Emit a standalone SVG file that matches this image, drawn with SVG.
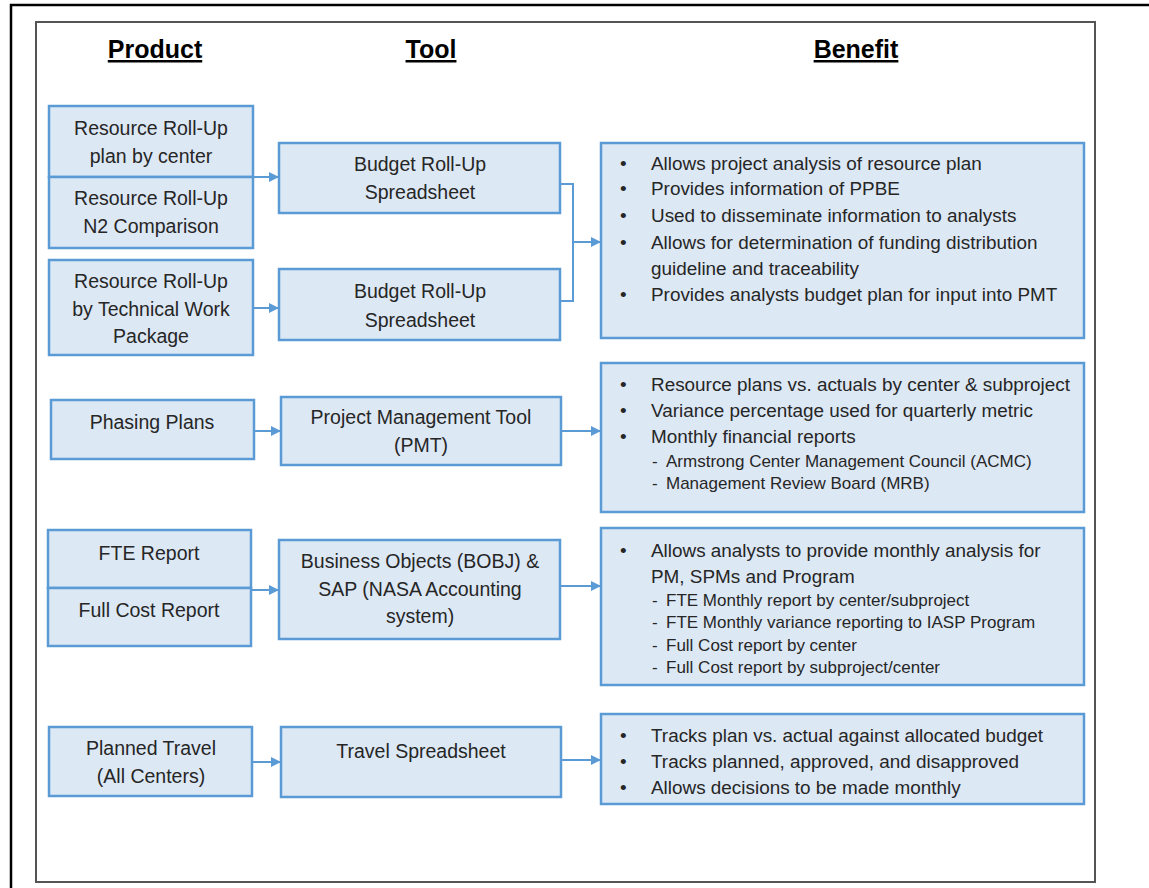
<svg xmlns="http://www.w3.org/2000/svg" width="1149" height="888" viewBox="0 0 1149 888">
<defs>
<style>
.frame{fill:none;stroke:#000;stroke-width:2.5}
.inner{fill:none;stroke:#555;stroke-width:2}
.box{fill:#dde8f5;stroke:#5b9bd5;stroke-width:2.5}
.t{font-family:"Liberation Sans",Arial,sans-serif;font-size:19.5px;fill:#262626;text-anchor:middle}
.b{font-family:"Liberation Sans",Arial,sans-serif;font-size:18.9px;fill:#262626}
.s{font-family:"Liberation Sans",Arial,sans-serif;font-size:17px;fill:#262626}
.h{font-family:"Liberation Sans",Arial,sans-serif;font-size:25px;font-weight:bold;fill:#000;text-anchor:middle;text-decoration:underline}
.c{fill:none;stroke:#5b9bd5;stroke-width:2}
</style>
<marker id="ar" viewBox="0 0 10 10" refX="10" refY="5" markerWidth="5" markerHeight="5" orient="auto" markerUnits="strokeWidth">
<path d="M0,0 L10,5 L0,10 z" fill="#5b9bd5"/>
</marker>
</defs>
<rect width="1149" height="888" fill="#fff"/>
<rect class="frame" x="11" y="5" width="1160" height="900"/>
<rect class="inner" x="36" y="22" width="1059" height="860"/>

<g id="headers">
<text class="h" x="155" y="58">Product</text>
<text class="h" x="431" y="58">Tool</text>
<text class="h" x="856" y="58">Benefit</text>
</g>

<g id="connectors">
<line class="c" x1="253" y1="177" x2="279" y2="177" marker-end="url(#ar)"/>
<line class="c" x1="253" y1="308" x2="279" y2="308" marker-end="url(#ar)"/>
<polyline class="c" points="560,184 573,184 573,301 560,301"/>
<line class="c" x1="573" y1="242" x2="601" y2="242" marker-end="url(#ar)"/>
<line class="c" x1="254" y1="431" x2="281" y2="431" marker-end="url(#ar)"/>
<line class="c" x1="561" y1="431" x2="601" y2="431" marker-end="url(#ar)"/>
<line class="c" x1="251" y1="590" x2="279" y2="590" marker-end="url(#ar)"/>
<line class="c" x1="560" y1="586" x2="601" y2="586" marker-end="url(#ar)"/>
<line class="c" x1="252" y1="762" x2="281" y2="762" marker-end="url(#ar)"/>
<line class="c" x1="561" y1="760" x2="601" y2="760" marker-end="url(#ar)"/>
</g>

<g id="p1">
<rect class="box" x="49" y="106" width="204" height="71"/>
<text class="t" x="151" y="135">Resource Roll-Up</text>
<text class="t" x="151" y="163">plan by center</text>
</g>
<g id="p2">
<rect class="box" x="49" y="177" width="204" height="71"/>
<text class="t" x="151" y="205">Resource Roll-Up</text>
<text class="t" x="151" y="233">N2 Comparison</text>
</g>
<g id="p3">
<rect class="box" x="49" y="260" width="204" height="95"/>
<text class="t" x="151" y="288">Resource Roll-Up</text>
<text class="t" x="151" y="316">by Technical Work</text>
<text class="t" x="151" y="343">Package</text>
</g>
<g id="t1">
<rect class="box" x="279" y="143" width="281" height="70"/>
<text class="t" x="420" y="171">Budget Roll-Up</text>
<text class="t" x="420" y="199">Spreadsheet</text>
</g>
<g id="t2">
<rect class="box" x="279" y="269" width="281" height="71"/>
<text class="t" x="420" y="298">Budget Roll-Up</text>
<text class="t" x="420" y="327">Spreadsheet</text>
</g>
<g id="b1">
<rect class="box" x="601" y="143" width="483" height="195"/>
<text class="b" x="620" y="170">•</text><text class="b" x="651" y="170">Allows project analysis of resource plan</text>
<text class="b" x="620" y="195">•</text><text class="b" x="651" y="195">Provides information of PPBE</text>
<text class="b" x="620" y="222">•</text><text class="b" x="651" y="222">Used to disseminate information to analysts</text>
<text class="b" x="620" y="249">•</text><text class="b" x="651" y="249">Allows for determination of funding distribution</text>
<text class="b" x="651" y="275">guideline and traceability</text>
<text class="b" x="620" y="301">•</text><text class="b" x="651" y="301">Provides analysts budget plan for input into PMT</text>
</g>

<g id="p4">
<rect class="box" x="51" y="400" width="203" height="59"/>
<text class="t" x="152" y="429">Phasing Plans</text>
</g>
<g id="t3">
<rect class="box" x="281" y="397" width="280" height="68"/>
<text class="t" x="421" y="424">Project Management Tool</text>
<text class="t" x="421" y="452">(PMT)</text>
</g>
<g id="b2">
<rect class="box" x="601" y="363" width="483" height="149"/>
<text class="b" x="620" y="391">•</text><text class="b" x="651" y="391">Resource plans vs. actuals by center &amp; subproject</text>
<text class="b" x="620" y="417">•</text><text class="b" x="651" y="417">Variance percentage used for quarterly metric</text>
<text class="b" x="620" y="443">•</text><text class="b" x="651" y="443">Monthly financial reports</text>
<text class="s" x="652" y="467">-</text><text class="s" x="666" y="467">Armstrong Center Management Council (ACMC)</text>
<text class="s" x="652" y="489">-</text><text class="s" x="666" y="489">Management Review Board (MRB)</text>
</g>

<g id="p5">
<rect class="box" x="48" y="530" width="203" height="58"/>
<text class="t" x="149" y="560">FTE Report</text>
</g>
<g id="p6">
<rect class="box" x="48" y="588" width="203" height="58"/>
<text class="t" x="149" y="617">Full Cost Report</text>
</g>
<g id="t4">
<rect class="box" x="279" y="540" width="281" height="99"/>
<text class="t" x="420" y="568">Business Objects (BOBJ) &amp;</text>
<text class="t" x="420" y="596">SAP (NASA Accounting</text>
<text class="t" x="420" y="623">system)</text>
</g>
<g id="b3">
<rect class="box" x="601" y="528" width="483" height="157"/>
<text class="b" x="620" y="557">•</text><text class="b" x="651" y="557">Allows analysts to provide monthly analysis for</text>
<text class="b" x="651" y="583">PM, SPMs and Program</text>
<text class="s" x="652" y="606">-</text><text class="s" x="666" y="606">FTE Monthly report by center/subproject</text>
<text class="s" x="652" y="628">-</text><text class="s" x="666" y="628">FTE Monthly variance reporting to IASP Program</text>
<text class="s" x="652" y="651">-</text><text class="s" x="666" y="651">Full Cost report by center</text>
<text class="s" x="652" y="673">-</text><text class="s" x="666" y="673">Full Cost report by subproject/center</text>
</g>

<g id="p7">
<rect class="box" x="49" y="727" width="203" height="69"/>
<text class="t" x="151" y="755">Planned Travel</text>
<text class="t" x="151" y="783">(All Centers)</text>
</g>
<g id="t5">
<rect class="box" x="281" y="727" width="280" height="70"/>
<text class="t" x="421" y="758">Travel Spreadsheet</text>
</g>
<g id="b4">
<rect class="box" x="601" y="714" width="483" height="90"/>
<text class="b" x="620" y="742">•</text><text class="b" x="651" y="742">Tracks plan vs. actual against allocated budget</text>
<text class="b" x="620" y="768">•</text><text class="b" x="651" y="768">Tracks planned, approved, and disapproved</text>
<text class="b" x="620" y="794">•</text><text class="b" x="651" y="794">Allows decisions to be made monthly</text>
</g>
</svg>
